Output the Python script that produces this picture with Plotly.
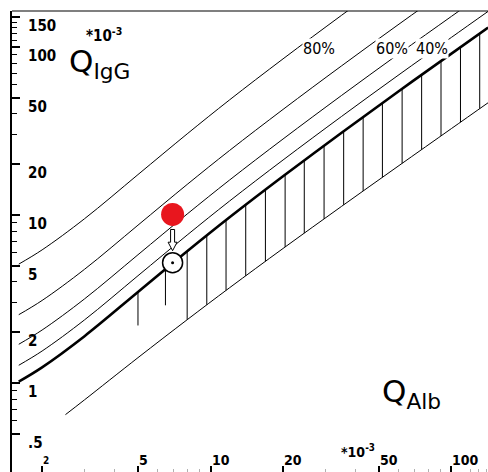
import math
import plotly.graph_objects as go

# ---------------- data (units of 10^-3) ----------------
knot_qalb = [1.6, 2, 3, 5, 8, 12, 20, 35, 60, 100, 142]
qigg_limit = [1.02, 1.24, 1.90, 3.48, 6.08, 9.69, 17.0, 30.9, 54.2, 91.3, 130.4]
lower_qalb = [2.5, 3, 5, 8, 12, 20, 35, 60, 100, 142]
qigg_lower = [0.648, 0.794, 1.415, 2.38, 3.69, 6.32, 11.26, 19.5, 32.7, 46.6]
intrathecal_fractions = [0.2, 0.4, 0.6, 0.8]
fraction_labels = ["40%", "60%", "80%"]
fraction_label_qalb = [83.0, 56.6, 28.2]

age_limit_qalb = [5.0, 6.5]
age_limit_top = [3.48, 4.76]
age_limit_bottom = [2.2, 2.9]

hatch_qalb = [8.0, 9.65, 11.6, 14.0, 16.9, 20.4, 24.5, 29.6, 35.7, 43.0,
              51.7, 62.4, 75.2, 90.5, 109, 131]
hatch_top = [6.08, 7.56, 9.33, 11.52, 14.18, 17.41, 21.20, 25.92, 31.58, 38.36,
             46.43, 56.38, 68.27, 82.50, 99.70, 120.15]
hatch_bottom = [2.38, 2.92, 3.56, 4.34, 5.30, 6.45, 7.80, 9.48, 11.49, 13.90,
                16.77, 20.30, 24.52, 29.57, 35.67, 42.93]

patient_qalb = 6.96
patient_qigg = 10.07
corrected_qigg = 5.2

y_tickvals = [0.5, 1, 2, 5, 10, 20, 50, 100, 150]
y_ticktext = [".5", "1", "2", "5", "10", "20", "50", "100", "150"]
y_minor = [0.6, 0.7, 0.8, 0.9, 3, 4, 6, 7, 8, 9, 30, 40, 60, 70, 80, 90,
           110, 120, 130, 140]
x_tickvals = [2, 5, 10, 20, 50, 100]
x_ticktext = ["2", "5", "10", "20", "50", "100"]
x_minor = [3, 4, 6, 7, 8, 9, 30, 40, 60, 70, 80, 90, 120, 130, 140]

# ---------------- layout geometry ----------------
FIG_W, FIG_H = 488, 472
ML, MR, MT, MB = 12, 0, 11, 0
PW, PH = FIG_W - ML - MR, FIG_H - MT - MB
XR = [math.log10(1.5), math.log10(141.8)]
YR = [-0.5298, 2.2143]
FONT = "DejaVu Sans Condensed, DejaVu Sans, sans-serif"
FONT_WIDE = "DejaVu Sans, sans-serif"


def x2px(v):
    return ML + (math.log10(v) - XR[0]) / (XR[1] - XR[0]) * PW


def y2px(v):
    return MT + (YR[1] - math.log10(v)) / (YR[1] - YR[0]) * PH


def px2x(p):
    return 10 ** (XR[0] + (p - ML) / PW * (XR[1] - XR[0]))


def px2y(p):
    return 10 ** (YR[1] - (p - MT) / PH * (YR[1] - YR[0]))


def paper_x(p):
    return (p - ML) / PW


def paper_y(p):
    return 1 - (p - MT) / PH


fig = go.Figure()

# intrathecal fraction lines
for f in intrathecal_fractions:
    fig.add_trace(go.Scatter(
        x=knot_qalb, y=[q / (1 - f) for q in qigg_limit], mode="lines",
        line=dict(color="black", width=1, shape="spline"), hoverinfo="skip"))

# lower limit
fig.add_trace(go.Scatter(
    x=lower_qalb, y=qigg_lower, mode="lines",
    line=dict(color="black", width=1, shape="spline"), hoverinfo="skip"))

# hatching
hx, hy = [], []
for q, t, b in zip(hatch_qalb + age_limit_qalb, hatch_top + age_limit_top,
                   hatch_bottom + age_limit_bottom):
    hx += [q, q, None]
    hy += [t, b, None]
fig.add_trace(go.Scatter(x=hx, y=hy, mode="lines",
                         line=dict(color="black", width=1), hoverinfo="skip"))

# upper limit (thick)
fig.add_trace(go.Scatter(
    x=knot_qalb, y=qigg_limit, mode="lines",
    line=dict(color="black", width=2.6, shape="spline"), hoverinfo="skip"))

# patient measured value
fig.add_trace(go.Scatter(
    x=[patient_qalb], y=[patient_qigg], mode="markers",
    marker=dict(color="#e8161e", size=23, line=dict(width=0)), hoverinfo="skip"))

# hollow arrow between measured and corrected value
cx = x2px(patient_qalb)
top = y2px(patient_qigg) + 15
tip = y2px(corrected_qigg) - 12
base = tip - 8.5
pts = [(cx - 2, top), (cx + 2, top), (cx + 2, base), (cx + 4.5, base), (cx, tip),
       (cx - 4.5, base), (cx - 2, base), (cx - 2, top)]
fig.add_trace(go.Scatter(
    x=[px2x(p[0]) for p in pts], y=[px2y(p[1]) for p in pts], mode="lines",
    fill="toself", fillcolor="white", line=dict(color="black", width=1),
    hoverinfo="skip"))

# corrected value (open circle with dot)
fig.add_trace(go.Scatter(
    x=[patient_qalb], y=[corrected_qigg], mode="markers",
    marker=dict(symbol="circle", color="white", size=20,
                line=dict(color="black", width=1.5)), hoverinfo="skip"))
fig.add_trace(go.Scatter(
    x=[patient_qalb], y=[corrected_qigg], mode="markers",
    marker=dict(color="black", size=3), hoverinfo="skip"))

# fraction labels
for txt, q in zip(fraction_labels, fraction_label_qalb):
    fig.add_annotation(x=math.log10(q), y=paper_y(38), xref="x", yref="paper",
                       text=txt, showarrow=False, bgcolor="white", borderpad=0,
                       font=dict(family=FONT, size=16, color="black"))

# y tick labels (inside, left aligned, just below the tick)
for v, t in zip(y_tickvals, y_ticktext):
    fig.add_annotation(x=paper_x(26), y=math.log10(v), xref="paper", yref="y",
                       xanchor="left", yanchor="middle", yshift=-9,
                       showarrow=False, text="<b>%s</b>" % t,
                       font=dict(family=FONT, size=15, color="black"))

# x tick labels (inside, left aligned at tick)
for v, t in zip(x_tickvals, x_ticktext):
    size = 10 if t == "2" else 14
    fig.add_annotation(x=math.log10(v), y=paper_y(460), xref="x", yref="paper",
                       xanchor="left", yanchor="middle", xshift=-1,
                       showarrow=False, text="<b>%s</b>" % t,
                       font=dict(family=FONT, size=size, color="black"))

fig.add_annotation(x=paper_x(67), y=paper_y(64), xref="paper", yref="paper",
                   xanchor="left", yanchor="middle", showarrow=False,
                   text="Q<sub>IgG</sub>",
                   font=dict(family=FONT_WIDE, size=31, color="black"))
fig.add_annotation(x=paper_x(84), y=paper_y(35), xref="paper", yref="paper",
                   xanchor="left", yanchor="middle", showarrow=False,
                   text="<b>*10<sup>-3</sup></b>",
                   font=dict(family=FONT, size=15, color="black"))
fig.add_annotation(x=paper_x(380), y=paper_y(393), xref="paper", yref="paper",
                   xanchor="left", yanchor="middle", showarrow=False,
                   text="Q<sub>Alb</sub>",
                   font=dict(family=FONT_WIDE, size=31, color="black"))
fig.add_annotation(x=paper_x(339), y=paper_y(451), xref="paper", yref="paper",
                   xanchor="left", yanchor="middle", showarrow=False,
                   text="<b>*10<sup>-3</sup></b>",
                   font=dict(family=FONT, size=14, color="black"))

# top border
fig.add_shape(type="line", xref="paper", yref="paper", x0=0, x1=1, y0=1, y1=1,
              line=dict(color="black", width=1.2))

fig.update_layout(
    width=FIG_W, height=FIG_H, margin=dict(l=ML, r=MR, t=MT, b=MB),
    paper_bgcolor="white", plot_bgcolor="white", showlegend=False,
    font=dict(family=FONT, color="black"),
    xaxis=dict(type="log", range=XR, showgrid=False, zeroline=False,
               showline=False, tickmode="array", tickvals=x_tickvals,
               showticklabels=False, ticks="inside", ticklen=6, tickwidth=1.5,
               tickcolor="black",
               minor=dict(tickmode="array", tickvals=x_minor, ticks="inside",
                          ticklen=3, tickwidth=1, tickcolor="#b0b0b0")),
    yaxis=dict(type="log", range=YR, showgrid=False, zeroline=False,
               showline=True, linecolor="black", linewidth=1.5,
               tickmode="array", tickvals=y_tickvals, showticklabels=False,
               ticks="inside", ticklen=8, tickwidth=1.5, tickcolor="black",
               minor=dict(tickmode="array", tickvals=y_minor, ticks="inside",
                          ticklen=5, tickwidth=1, tickcolor="black")),
)

fig.write_html("out.html")
